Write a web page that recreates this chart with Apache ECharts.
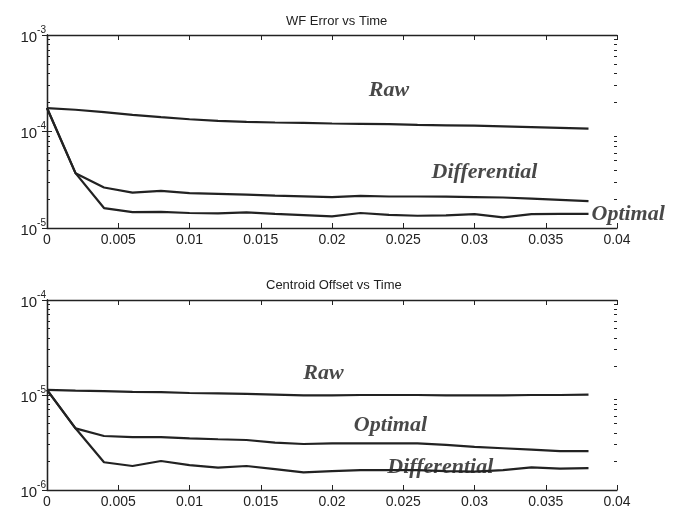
<!DOCTYPE html>
<html>
<head>
    <meta charset="utf-8">
    <title>WF Error / Centroid Offset vs Time</title>
    <script src="https://cdn.jsdelivr.net/npm/echarts@6/dist/echarts.min.js"></script>
    <style>
        body { margin: 0; background: #fff; }
        #chart { width: 679px; height: 510px; }
    </style>
</head>
<body>
    <div id="chart"></div>
    <script>
        // time samples (s)
        const time = [0, 0.002, 0.004, 0.006, 0.008, 0.010, 0.012, 0.014, 0.016, 0.018,
                      0.020, 0.022, 0.024, 0.026, 0.028, 0.030, 0.032, 0.034, 0.036, 0.038];

        // WF Error vs Time
        const wfRaw  = [1.75e-4, 1.68e-4, 1.59e-4, 1.49e-4, 1.41e-4, 1.34e-4, 1.29e-4, 1.26e-4, 1.24e-4, 1.23e-4,
                        1.21e-4, 1.20e-4, 1.19e-4, 1.17e-4, 1.16e-4, 1.15e-4, 1.13e-4, 1.11e-4, 1.09e-4, 1.07e-4];
        const wfDiff = [1.75e-4, 3.7e-5, 2.63e-5, 2.33e-5, 2.43e-5, 2.30e-5, 2.26e-5, 2.22e-5, 2.17e-5, 2.13e-5,
                        2.09e-5, 2.15e-5, 2.12e-5, 2.12e-5, 2.11e-5, 2.09e-5, 2.07e-5, 2.02e-5, 1.96e-5, 1.90e-5];
        const wfOpt  = [1.75e-4, 3.7e-5, 1.61e-5, 1.46e-5, 1.47e-5, 1.43e-5, 1.42e-5, 1.45e-5, 1.40e-5, 1.36e-5,
                        1.32e-5, 1.43e-5, 1.37e-5, 1.34e-5, 1.35e-5, 1.39e-5, 1.29e-5, 1.39e-5, 1.40e-5, 1.40e-5];

        // Centroid Offset vs Time
        const coRaw  = [1.13e-5, 1.11e-5, 1.10e-5, 1.08e-5, 1.07e-5, 1.05e-5, 1.04e-5, 1.03e-5, 1.01e-5, 0.99e-5,
                        0.99e-5, 1.00e-5, 1.00e-5, 1.00e-5, 0.99e-5, 0.99e-5, 0.99e-5, 1.00e-5, 1.00e-5, 1.01e-5];
        const coOpt  = [1.13e-5, 4.46e-6, 3.70e-6, 3.61e-6, 3.61e-6, 3.50e-6, 3.42e-6, 3.36e-6, 3.15e-6, 3.05e-6,
                        3.10e-6, 3.10e-6, 3.10e-6, 3.10e-6, 2.98e-6, 2.84e-6, 2.75e-6, 2.66e-6, 2.57e-6, 2.57e-6];
        const coDiff = [1.13e-5, 4.46e-6, 1.96e-6, 1.79e-6, 2.02e-6, 1.83e-6, 1.72e-6, 1.79e-6, 1.66e-6, 1.53e-6,
                        1.58e-6, 1.62e-6, 1.62e-6, 1.62e-6, 1.58e-6, 1.56e-6, 1.62e-6, 1.73e-6, 1.68e-6, 1.70e-6];

        // curve annotations [x, y, text]
        const wfNotes = [[0.024, 2.7e-4, 'Raw'], [0.0307, 3.8e-5, 'Differential'], [0.038, 1.4e-5, 'Optimal']];
        const coNotes = [[0.0194, 1.7e-5, 'Raw'], [0.0241, 4.8e-6, 'Optimal'], [0.0276, 1.75e-6, 'Differential']];

        const ink = '#222';
        const pair = (ys) => time.map((t, i) => [t, ys[i]]);

        function minorTicks(lo, hi) {
            const out = [];
            for (let d = lo; d < hi; d++) {
                for (let k = 2; k <= 9; k++) out.push(d + Math.log10(k));
            }
            return out;
        }

        function xAxes(grid) {
            const base = {
                type: 'value', gridIndex: grid, min: 0, max: 0.04, interval: 0.005,
                axisLine: { show: true, lineStyle: { color: ink, width: 1.3 } },
                axisTick: { show: true, inside: true, length: 5, lineStyle: { color: ink } },
                splitLine: { show: false }
            };
            return [
                Object.assign({}, base, {
                    position: 'bottom',
                    axisLabel: { color: '#222', fontSize: 14, margin: 5, fontFamily: 'Liberation Sans' }
                }),
                Object.assign({}, base, { position: 'top', axisLabel: { show: false } })
            ];
        }

        function yAxes(grid, lo, hi) {
            const major = {
                type: 'log', gridIndex: grid, logBase: 10, min: Math.pow(10, lo), max: Math.pow(10, hi),
                axisLine: { show: true, lineStyle: { color: ink, width: 1.3 } },
                axisTick: { show: true, inside: true, length: 5, lineStyle: { color: ink } },
                splitLine: { show: false }
            };
            const minor = {
                type: 'value', gridIndex: grid, min: lo, max: hi,
                axisLine: { show: false },
                axisTick: { show: true, inside: true, length: 3, customValues: minorTicks(lo, hi),
                            lineStyle: { color: ink } },
                axisLabel: { show: false },
                splitLine: { show: false }
            };
            return [
                Object.assign({}, major, {
                    position: 'left',
                    axisLabel: {
                        margin: 1,
                        formatter: v => '{b|10}{s|' + Math.round(Math.log10(v)) + '}',
                        rich: {
                            b: { fontSize: 15, lineHeight: 20, verticalAlign: 'bottom', color: '#222', fontFamily: 'Liberation Sans' },
                            s: { fontSize: 10, lineHeight: 11, verticalAlign: 'top', color: '#222', fontFamily: 'Liberation Sans' }
                        }
                    }
                }),
                Object.assign({}, major, { position: 'right', axisLabel: { show: false } }),
                Object.assign({}, minor, { position: 'left' }),
                Object.assign({}, minor, { position: 'right' })
            ];
        }

        function curve(ys, xi, yi) {
            return {
                type: 'line', xAxisIndex: xi, yAxisIndex: yi, data: pair(ys),
                symbol: 'none', smooth: false, silent: true,
                lineStyle: { color: ink, width: 2.2 }
            };
        }

        function notes(list, xi, yi) {
            return {
                type: 'scatter', xAxisIndex: xi, yAxisIndex: yi, symbolSize: 0, silent: true, clip: false,
                data: list.map(n => ({
                    value: [n[0], n[1]], name: n[2],
                    label: n[2] === 'Optimal' && list === wfNotes
                        ? { position: 'right', distance: 3 } : { position: 'inside' }
                })),
                label: {
                    show: true, formatter: p => p.name, color: '#1a1a1a',
                    fontFamily: 'Liberation Serif', fontStyle: 'italic', fontWeight: 'bold', fontSize: 22
                }
            };
        }

        const titleStyle = { fontSize: 13, fontWeight: 'normal', color: '#222', fontFamily: 'Liberation Sans' };

        const chart = echarts.init(document.getElementById('chart'));
        chart.setOption({
            backgroundColor: '#fff',
            animation: false,
            title: [
                { text: 'WF Error vs Time', left: 281, top: 10, textStyle: titleStyle },
                { text: 'Centroid Offset vs Time', left: 261, top: 274, textStyle: titleStyle }
            ],
            grid: [
                { left: 47, top: 35, width: 570, height: 193 },
                { left: 47, top: 300, width: 570, height: 190 }
            ],
            xAxis: xAxes(0).concat(xAxes(1)),
            yAxis: yAxes(0, -5, -3).concat(yAxes(1, -6, -4)),
            series: [
                curve(wfRaw, 0, 0), curve(wfDiff, 0, 0), curve(wfOpt, 0, 0),
                notes(wfNotes, 0, 0),
                curve(coRaw, 2, 4), curve(coOpt, 2, 4), curve(coDiff, 2, 4),
                notes(coNotes, 2, 4)
            ]
        });

        window.addEventListener('resize', () => chart.resize());
    </script>
</body>
</html>
